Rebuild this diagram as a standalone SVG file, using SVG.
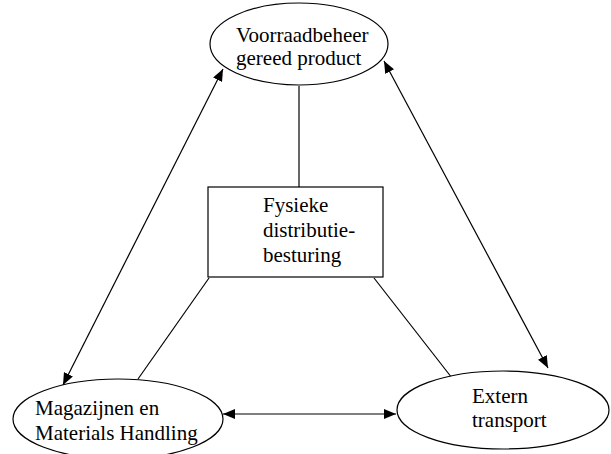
<svg xmlns="http://www.w3.org/2000/svg" width="611" height="454" viewBox="0 0 611 454">
  <style>
    .shape { fill: #fff; stroke: #000; stroke-width: 1.2; }
    .link { fill: none; stroke: #000; stroke-width: 1.2; }
    .label { font-family: "Liberation Serif", "Times New Roman", serif; font-size: 21px; fill: #000; }
  </style>
  <defs>
    <marker id="arrow" viewBox="0 0 12 10" refX="12" refY="5" markerWidth="12" markerHeight="10" markerUnits="userSpaceOnUse" orient="auto-start-reverse">
      <path d="M0,0 L12,5 L0,10 Z" fill="#000"/>
    </marker>
  </defs>
  <rect width="611" height="454" fill="#fff"/>

  <g id="connectors">
    <line class="link" x1="299" y1="86" x2="299" y2="187"/>
    <line class="link" x1="209" y1="278" x2="138" y2="379"/>
    <line class="link" x1="374" y1="278" x2="452" y2="378"/>
    <line class="link" x1="63" y1="385" x2="223" y2="69" marker-start="url(#arrow)" marker-end="url(#arrow)"/>
    <line class="link" x1="384" y1="61" x2="548" y2="368" marker-start="url(#arrow)" marker-end="url(#arrow)"/>
    <line class="link" x1="223" y1="414" x2="396" y2="414" marker-start="url(#arrow)" marker-end="url(#arrow)"/>
  </g>

  <g id="voorraadbeheer">
    <ellipse class="shape" cx="299" cy="44" rx="89" ry="41"/>
    <text class="label" x="236" y="42">Voorraadbeheer</text>
    <text class="label" x="236" y="65">gereed product</text>
  </g>

  <g id="besturing">
    <rect class="shape" x="208" y="187" width="175" height="90"/>
    <text class="label" x="263" y="212">Fysieke</text>
    <text class="label" x="263" y="237">distributie-</text>
    <text class="label" x="263" y="262">besturing</text>
  </g>

  <g id="magazijnen">
    <ellipse class="shape" cx="118" cy="419" rx="105" ry="40"/>
    <text class="label" x="35" y="415">Magazijnen en</text>
    <text class="label" x="35" y="440">Materials Handling</text>
  </g>

  <g id="transport">
    <ellipse class="shape" cx="503" cy="410" rx="106" ry="39"/>
    <text class="label" x="472" y="403">Extern</text>
    <text class="label" x="472" y="427">transport</text>
  </g>
</svg>
